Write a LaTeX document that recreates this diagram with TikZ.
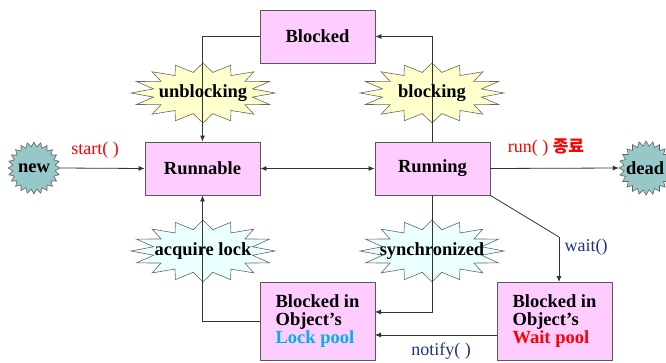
\documentclass[tikz,border=0pt]{standalone}
\usepackage{fontspec}
\setmainfont{Liberation Serif}
\newfontfamily\kr{Noto Sans CJK KR}
\usetikzlibrary{arrows.meta}
\definecolor{boxpink}{RGB}{255,204,255}
\definecolor{staryellow}{RGB}{255,255,204}
\definecolor{starcyan}{RGB}{234,255,255}
\definecolor{starteal}{RGB}{150,200,200}
\definecolor{navy}{RGB}{30,50,130}
\definecolor{lockblue}{RGB}{0,176,240}
\newcommand\burstshape[7]{% cx cy rx ry m ratio fill
  \path[draw=black!60, fill=#7, line width=0.6pt, line join=miter]
    ({#1+#3},{#2}) \foreach \k in {1,...,#5} {
      -- ({#1+#3*(1-(1-#6)*mod(\k,2))*cos(\k/#5*360)},{#2+#4*(1-(1-#6)*mod(\k,2))*sin(\k/#5*360)})
    } -- cycle;}
\begin{document}
\begin{tikzpicture}[x=1pt,y=-1pt,
  stbox/.style={draw=black!65, fill=boxpink, line width=0.8pt, inner sep=0pt,
    font=\bfseries\fontsize{18.5}{18}\selectfont},
  lbl/.style={font=\bfseries\fontsize{18.5}{18}\selectfont, inner sep=0pt},
  conn/.style={draw=black!80, line width=0.8pt, -{Latex[length=6pt,width=5pt]}},
  note/.style={font=\fontsize{18}{18}\selectfont, inner sep=0pt}]
\useasboundingbox (0,0) rectangle (666,362);
\clip (0,0) rectangle (666,362);
% boxes
\node[stbox, minimum width=115pt, minimum height=53pt] (blocked) at (317.5,36.5) {Blocked};
\node[stbox, minimum width=115pt, minimum height=53pt] (runnable) at (202.5,168.5) {Runnable};
\node[stbox, minimum width=115pt, minimum height=53pt] (running) at (432.5,168.5) {Running};
\node[stbox, minimum width=115pt, minimum height=78pt, align=left] (lock) at (317.5,321)
  {Blocked in\\Object's\\\textcolor{lockblue}{Lock pool}};
\node[stbox, minimum width=115pt, minimum height=78pt, align=left] (wait) at (554.5,321)
  {Blocked in\\Object's\\\textcolor{red}{Wait pool}};
% bursts
\burstshape{203}{93}{72}{30}{32}{0.7}{staryellow}
\burstshape{432}{93}{72}{30}{32}{0.7}{staryellow}
\burstshape{203}{251}{72}{31}{32}{0.7}{starcyan}
\burstshape{432}{251}{72}{31}{32}{0.7}{starcyan}
\burstshape{34}{168}{26}{26}{48}{0.82}{starteal}
\burstshape{646}{168}{27}{27}{48}{0.82}{starteal}
\node[circle, minimum size=52pt, inner sep=0pt] (new) at (34,168) {};
\node[circle, minimum size=54pt, inner sep=0pt] (dead) at (646,168) {};
% coordinates
\coordinate (lk1) at (375,312);
\coordinate (lk2) at (375,335);
\coordinate (wbend) at (559,237);
\coordinate (wtop) at (559,282);
% connectors
\draw[conn] (blocked.west) -| (runnable.north);
\draw[conn] (running.north) |- (blocked.east);
\draw[conn] (lock.west) -| (runnable.south);
\draw[conn] (running.south) |- (lk1);
\draw[conn] (wait.west |- lk2) -- (lk2);
\draw[conn, -] (running.south east) -- (wbend);
\draw[conn] (wbend) -- (wtop);
\draw[conn] (new.east) -- (runnable.west);
\draw[conn] (running.east) -- (dead.west);
\draw[conn, {Latex[length=6pt,width=5pt]}-{Latex[length=6pt,width=5pt]}] (runnable.east) -- (running.west);
% labels
\node[lbl] (newt) at (34,168) {new};
\node[lbl, anchor=west] (deadt) at (626,168) {dead};
\node[lbl] (unb) at (203,93) {unblocking};
\node[lbl] (blk) at (432,93) {blocking};
\node[lbl] (acq) at (203,251) {acquire lock};
\node[lbl] (syn) at (432,251) {synchronized};
\node[note, text=red] (start) at (95,150) {start( )};
\node[note, text=red] (runend) at (546,148) {run( ) {\kr\bfseries\fontsize{17}{17}\selectfont 종료}};
\node[note, text=navy] (waitl) at (586,247) {wait()};
\node[note, text=navy] (notif) at (441,351) {notify( )};
\end{tikzpicture}
\end{document}
